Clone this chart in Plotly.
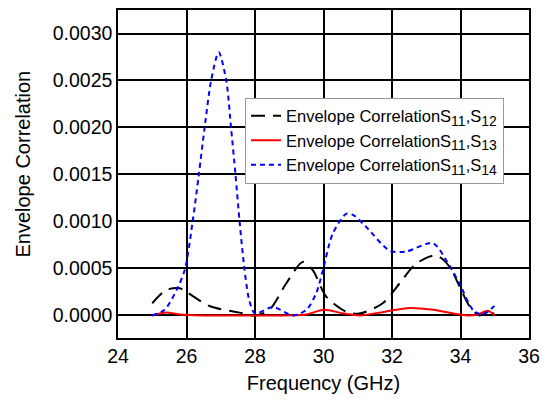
import plotly.graph_objects as go

# S11,S12 (black dashed)
x12 = [25.0, 25.4, 25.8, 26.0, 26.67, 27.55, 28.0, 28.42, 28.91, 29.4, 29.69, 30.08, 30.66, 31.05, 31.73, 32.22, 32.7, 33.29, 33.68, 33.97, 34.26, 34.55, 34.85, 35.0]
y12 = [0.00013, 0.00027, 0.00029, 0.00025, 0.0001, 0.00003, 0.0, 0.00006, 0.00034, 0.00057, 0.00048, 0.0002, 0.00004, 0.00002, 0.00013, 0.00034, 0.00055, 0.00064, 0.00052, 0.00031, 0.0001, 0.0, 0.00006, 0.0]

# S11,S13 (red solid)
x13 = [25.0, 25.4, 25.8, 26.5, 27.5, 28.5, 29.5, 30.0, 30.6, 31.05, 31.8, 32.5, 33.2, 33.8, 34.2, 34.5, 34.8, 35.0]
y13 = [0.0, 0.00003, 0.00001, 0.0, 0.0, 0.0, 0.00001, 0.00006, 0.00002, 0.0, 0.00004, 0.00008, 0.00006, 0.00002, 0.0, 0.00001, 0.00005, 0.0]

# S11,S14 (blue short dash)
x14 = [25.0, 25.36, 25.75, 25.96, 26.18, 26.36, 26.53, 26.72, 26.94, 27.16, 27.3, 27.43, 27.55, 27.69, 27.84, 28.0, 28.52, 29.1, 29.5, 29.79, 29.98, 30.27, 30.66, 30.86, 31.25, 31.93, 32.41, 33.19, 33.58, 33.97, 34.36, 34.64, 34.99]
y14 = [0.0, 0.00006, 0.0003, 0.0005, 0.0010, 0.0015, 0.0020, 0.0025, 0.0028, 0.0025, 0.0020, 0.0015, 0.0010, 0.0005, 0.00015, 0.00002, 0.00009, 0.0, 0.00006, 0.00024, 0.00048, 0.00087, 0.00108, 0.00107, 0.00094, 0.00069, 0.00068, 0.00077, 0.00059, 0.00034, 0.00006, 0.00001, 0.0001]

def sub(t):
    return '<sub><span style="font-size:14px">' + t + '</span></sub>'

names = ["Envelope CorrelationS" + sub("11") + ",S" + sub("12"),
         "Envelope CorrelationS" + sub("11") + ",S" + sub("13"),
         "Envelope CorrelationS" + sub("11") + ",S" + sub("14")]

x_ticks = [24, 26, 28, 30, 32, 34, 36]
y_ticks = [0.0, 0.0005, 0.0010, 0.0015, 0.0020, 0.0025, 0.0030]
y_labels = ["0.0000", "0.0005", "0.0010", "0.0015", "0.0020", "0.0025", "0.0030"]

fig = go.Figure()
fig.add_trace(go.Scatter(x=x12, y=y12, mode="lines", name=names[0],
                         line=dict(color="black", width=2, dash="14px,8px", shape="spline", smoothing=0.8)))
fig.add_trace(go.Scatter(x=x13, y=y13, mode="lines", name=names[1],
                         line=dict(color="#ff0000", width=2, shape="spline", smoothing=0.8)))
fig.add_trace(go.Scatter(x=x14, y=y14, mode="lines", name=names[2],
                         line=dict(color="#0000ff", width=2, dash="5px,4px", shape="spline", smoothing=0.8)))

font = "Liberation Sans, Arial, sans-serif"
fig.update_layout(
    width=548, height=401,
    margin=dict(l=118, r=19, t=8, b=63),
    paper_bgcolor="white", plot_bgcolor="white",
    font=dict(family=font, color="black", size=19.5),
    showlegend=True,
    legend=dict(x=0.309, y=0.733, xanchor="left", yanchor="top",
                bgcolor="white", bordercolor="#999999", borderwidth=1,
                font=dict(size=16.5), tracegroupgap=0, itemwidth=30),
    xaxis=dict(range=[24, 36], tickvals=x_ticks, showgrid=True, gridcolor="black", gridwidth=1.5,
               showline=True, linecolor="black", linewidth=1.5, mirror=True, zeroline=False,
               ticks="", title=dict(text="Frequency (GHz)", standoff=10, font=dict(size=20)),
               tickfont=dict(size=19.5)),
    yaxis=dict(range=[-0.00024, 0.00325], tickvals=y_ticks, ticktext=y_labels, showgrid=True,
               gridcolor="black", gridwidth=1.5, showline=True, linecolor="black", linewidth=1.5,
               mirror=True, zeroline=False, ticks="", tickfont=dict(size=19.5)),
    annotations=[dict(text="Envelope Correlation", xref="paper", yref="paper",
                      x=-0.231, y=0.529, xanchor="center", yanchor="middle",
                      textangle=-90, showarrow=False, font=dict(size=20))],
)
fig.write_html("out.html")
